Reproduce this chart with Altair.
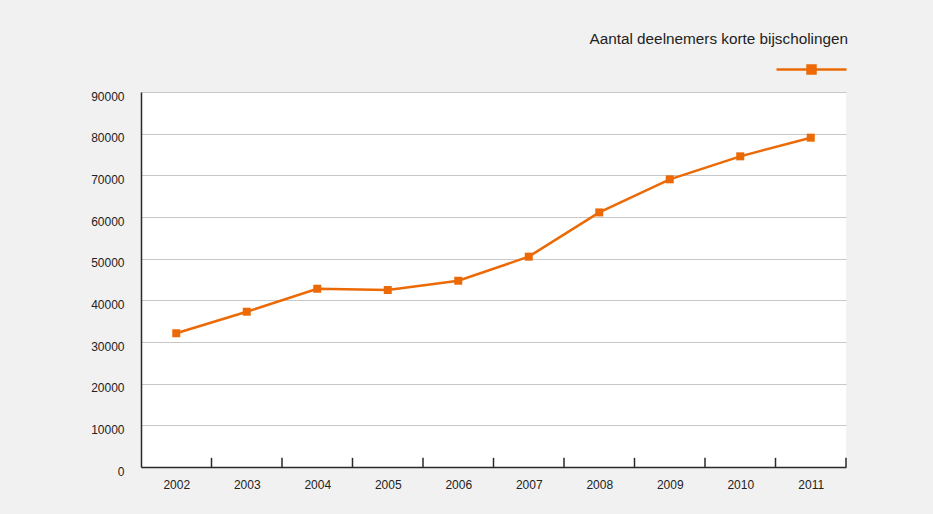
import altair as alt
import pandas as pd

years = ["2002", "2003", "2004", "2005", "2006", "2007", "2008", "2009", "2010", "2011"]
deelnemers = [32100, 37270, 42780, 42470, 44700, 50480, 61100, 69040, 74560, 79040]
series_name = "Aantal deelnemers korte bijscholingen"
tick_positions = [1, 2, 3, 4, 5, 6, 7, 8, 9, 10]

ORANGE = "#ec6a06"
DARK = "#2a2a2a"
FONT = "Liberation Sans"

df = pd.DataFrame({"jaar": years, "aantal": deelnemers, "reeks": series_name})
ticks_df = pd.DataFrame({"pos": tick_positions, "y0": 0, "y1": 2200})

y_enc = alt.Y(
    "aantal:Q",
    scale=alt.Scale(domain=[0, 90000], nice=False),
    axis=alt.Axis(
        values=list(range(0, 90001, 10000)),
        format="d",
        title=None,
        grid=True,
        gridColor="#c8c8c8",
        gridWidth=1,
        ticks=False,
        domainColor=DARK,
        domainWidth=1.5,
        labelPadding=17,
        labelOffset=4,
        labelFontSize=12,
        labelColor="#222222",
        labelFont=FONT,
    ),
)

x_enc = alt.X(
    "jaar:O",
    sort=years,
    scale=alt.Scale(type="point", padding=0.5),
    axis=alt.Axis(
        title=None,
        labelAngle=0,
        ticks=False,
        grid=False,
        domainColor=DARK,
        domainWidth=1.5,
        labelPadding=12,
        labelFontSize=12,
        labelColor="#222222",
        labelFont=FONT,
    ),
)

color_enc = alt.Color(
    "reeks:N",
    scale=alt.Scale(range=[ORANGE]),
    legend=alt.Legend(
        title=None,
        orient="none",
        legendX=664,
        legendY=-29,
        labelExpr="''",
        symbolType="M-7,0L7,0M-0.8,-0.8L0.8,-0.8L0.8,0.8L-0.8,0.8Z",
        symbolSize=100,
        symbolStrokeWidth=2.5,
        symbolFillColor=ORANGE,
        symbolStrokeColor=ORANGE,
        symbolOpacity=1,
        labelLimit=1,
        labelFontSize=10,
        columnPadding=0,
        padding=0,
    ),
)

line = alt.Chart(df).mark_line(
    strokeWidth=2.5,
    point=alt.OverlayMarkDef(shape="square", filled=True, size=64, opacity=1, color=ORANGE),
).encode(x=x_enc, y=y_enc, color=color_enc)

tick_rules = alt.Chart(ticks_df).mark_rule(color=DARK, strokeWidth=1.5).encode(
    x=alt.X("pos:Q", scale=alt.Scale(domain=[0, 10], nice=False), axis=None),
    y=alt.Y("y0:Q"),
    y2="y1:Q",
)

chart = (
    alt.layer(line, tick_rules)
    .resolve_scale(x="independent")
    .properties(
        width=705,
        height=375,
        autosize=alt.AutoSizeParams(type="none"),
        padding={"left": 141, "top": 92, "right": 87, "bottom": 47},
        background="#f1f1f1",
        title=alt.TitleParams(
            text=series_name,
            anchor="end",
            fontSize=15.3,
            font=FONT,
            fontWeight="normal",
            color="#222222",
            offset=4,
            dx=-4,
            baseline="alphabetic",
        ),
    )
    .configure_view(fill="white", strokeWidth=0)
)

chart.save("out.html", embed_options={"renderer": "svg", "actions": False})
